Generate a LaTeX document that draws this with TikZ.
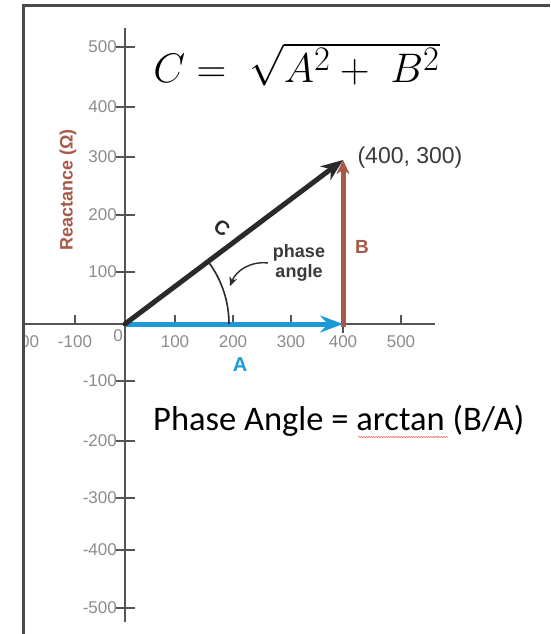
\documentclass[tikz,border=0pt]{standalone}
\usepackage[no-math]{fontspec}
\setmainfont{Liberation Sans}
\newfontfamily\calib{Carlito}
\usetikzlibrary{arrows.meta,decorations.pathmorphing}
\definecolor{colA}{HTML}{1B9AD7}
\definecolor{colB}{HTML}{A65A48}
\definecolor{colC}{HTML}{2A2A2A}
\definecolor{axisc}{HTML}{555555}
\definecolor{tickc}{HTML}{8C8C8C}
\definecolor{framec}{HTML}{4A4A4A}
\definecolor{textc}{HTML}{3A3A3A}
\tikzset{
  axisline/.style={draw=axisc, line width=1.2pt},
  ticklab/.style={inner sep=0pt, text=tickc, font=\fontsize{17}{17}\selectfont},
  vecA/.style={draw=colA, line width=5pt, -{Stealth[length=23pt,width=17pt,inset=8pt]}},
  vecB/.style={draw=colB, line width=5pt, -{Stealth[length=14pt,width=13pt,inset=4pt]}},
  vecC/.style={draw=colC, line width=5pt, line cap=round, -{Stealth[length=22pt,width=17pt,inset=7pt]}},
  arcline/.style={draw=colC, line width=1.6pt},
  boldlab/.style={inner sep=0pt, font=\bfseries\fontsize{19}{19}\selectfont}
}
\begin{document}
\begin{tikzpicture}[x=1pt,y=-1pt]
\useasboundingbox (0,0) rectangle (550,634);
\fill[white] (0,0) rectangle (550,634);
% frame
\coordinate (fb) at (23.5,634);
\coordinate (ftl) at (23.5,5.5);
\coordinate (ftr) at (550,5.5);
\draw[framec, line width=2.2pt] (fb) -- (ftl) -- (ftr);
\begin{scope}
\clip (25,7) rectangle (550,634);
% axes
\coordinate (O) at (125,324);
\coordinate (xl) at (20,324);
\coordinate (xr) at (435,324);
\coordinate (yt) at (125,28);
\coordinate (yb) at (125,622);
\draw[axisline] (xl) -- (xr);
\draw[axisline] (yt) -- (yb);
\foreach \px/\lab in {75/-100,175/100,233/200,291/300,401/500} {
  \draw[axisline] (\px,315) -- (\px,324);
  \node[ticklab] at (\px,342) {\lab};
}
\draw[axisline] (343,324) -- (343,333);
\node[ticklab] at (343,342) {400};
\node[ticklab] at (22,342) {-200};
\node[ticklab] at (118,336) {0};
\foreach \py/\lab in {47/500,107/400,157/300,215/200,272/100,381/-100,441/-200,498/-300,550/-400,608/-500} {
  \draw[axisline] (116,\py) -- (135,\py);
  \node[ticklab, anchor=east] at (117,\py) {\lab};
}
\end{scope}
% axis title
\node[boldlab, text=colB, rotate=90, font=\bfseries\fontsize{18}{18}\selectfont] (ytl) at (68,190) {Reactance (Ω)};
% vectors
\coordinate (P) at (343,324);
\coordinate (P0) at (343,327);
\coordinate (Q) at (343,160);
\draw[vecA] (O) -- (P);
\draw[vecB] (P0) -- (Q);
\draw[vecC] (O) -- (Q);
% phase angle arc
\draw[arcline] (229,324) arc[start angle=0, end angle=-37, radius=104];
\node[inner sep=0pt, align=center, text=textc, font=\bfseries\fontsize{18}{20}\selectfont] (ph) at (299,263) {phase\\angle};
\coordinate (phs) at (268,263);
\coordinate (phe) at (230,286);
\draw[arcline, line width=1.4pt, -{Stealth[length=9pt,width=8pt]}] (phs) .. controls (250,261) and (236,271) .. (phe);
% labels
\node[boldlab, text=colA, font=\bfseries\fontsize{20}{20}\selectfont] (la) at (240,365) {A};
\node[boldlab, text=colB] (lb) at (362,247) {B};
\node[boldlab, text=colC, rotate=-35, font=\bfseries\fontsize{20}{20}\selectfont] (lc) at (222,228) {C};
\node[inner sep=0pt, text=textc, font=\fontsize{23}{23}\selectfont] (pt) at (410,158) {(400, 300)};
% formulas
\node[inner sep=0pt, anchor=base west, scale=1.66] (f1) at (153,82) {\fontsize{24.88}{30}\selectfont $C =\; \sqrt{A^2 +\; B^2}$};
\node[inner sep=0pt, anchor=base west, font=\calib\fontsize{34.5}{36}\selectfont] (f2) at (153,430) {Phase Angle = arctan (B/A)};
\coordinate (s1) at (358,437);
\coordinate (s2) at (448,437);
\draw[red!70, line width=0.5pt, decorate, decoration={snake, amplitude=0.6pt, segment length=2.5pt}] (s1) -- (s2);
\end{tikzpicture}
\end{document}
